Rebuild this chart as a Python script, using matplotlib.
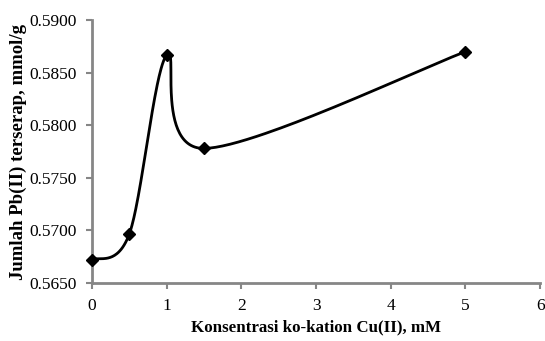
import numpy as np
import matplotlib.pyplot as plt

plt.rcParams['font.family'] = ['Liberation Serif', 'DejaVu Serif']

# data
konsentrasi = [0, 0.5, 1, 1.5, 5]
jumlah_pb = [0.5672, 0.5697, 0.5867, 0.5778, 0.5870]

x_ticks = [0, 1, 2, 3, 4, 5, 6]
y_ticks = [0.5650, 0.5700, 0.5750, 0.5800, 0.5850, 0.5900]


def smooth_curve(ax, xs, ys, n=60):
    # excel style smoothed line, computed in screen space
    pts = ax.transData.transform(np.column_stack([xs, ys]))
    out = []
    for i in range(len(pts) - 1):
        p0 = pts[i - 1] if i > 0 else pts[i]
        p1 = pts[i]
        p2 = pts[i + 1]
        p3 = pts[i + 2] if i + 2 < len(pts) else pts[i + 1]
        c1 = p1 + (p2 - p0) / 6
        c2 = p2 - (p3 - p1) / 6
        t = np.linspace(0, 1, n)[:, None]
        seg = ((1 - t) ** 3 * p1 + 3 * (1 - t) ** 2 * t * c1
               + 3 * (1 - t) * t ** 2 * c2 + t ** 3 * p2)
        out.append(seg)
    out = np.vstack(out)
    return ax.transData.inverted().transform(out)


fig = plt.figure(figsize=(5.45, 3.41), dpi=100)
ax = fig.add_axes([0.169, 0.170, 0.822, 0.771])
ax.set_xlim(0, 6)
ax.set_ylim(0.565, 0.590)

curve = smooth_curve(ax, konsentrasi, jumlah_pb)
ax.plot(curve[:, 0], curve[:, 1], color='black', lw=2, solid_capstyle='round', clip_on=False)
ax.plot(konsentrasi, jumlah_pb, linestyle='none', marker='D', color='black',
        markersize=6.5, clip_on=False, zorder=5)

ax.set_xticks(x_ticks)
ax.set_yticks(y_ticks)
ax.set_yticklabels(['%.4f' % v for v in y_ticks])
ax.tick_params(direction='out', length=4, width=1.5, color='#868686', labelsize=12.5)
ax.tick_params(axis='y', pad=7)
ax.tick_params(axis='x', pad=7)

for s in ['top', 'right']:
    ax.spines[s].set_visible(False)
for s in ['left', 'bottom']:
    ax.spines[s].set_color('#868686')
    ax.spines[s].set_linewidth(2)

ax.set_xlabel('Konsentrasi ko-kation Cu(II), mM', fontsize=12.2, fontweight='bold', labelpad=4)
ax.set_ylabel('Jumlah Pb(II) terserap, mmol/g', fontsize=13.5, fontweight='bold', labelpad=2)

fig.savefig('out.png', dpi=100)
